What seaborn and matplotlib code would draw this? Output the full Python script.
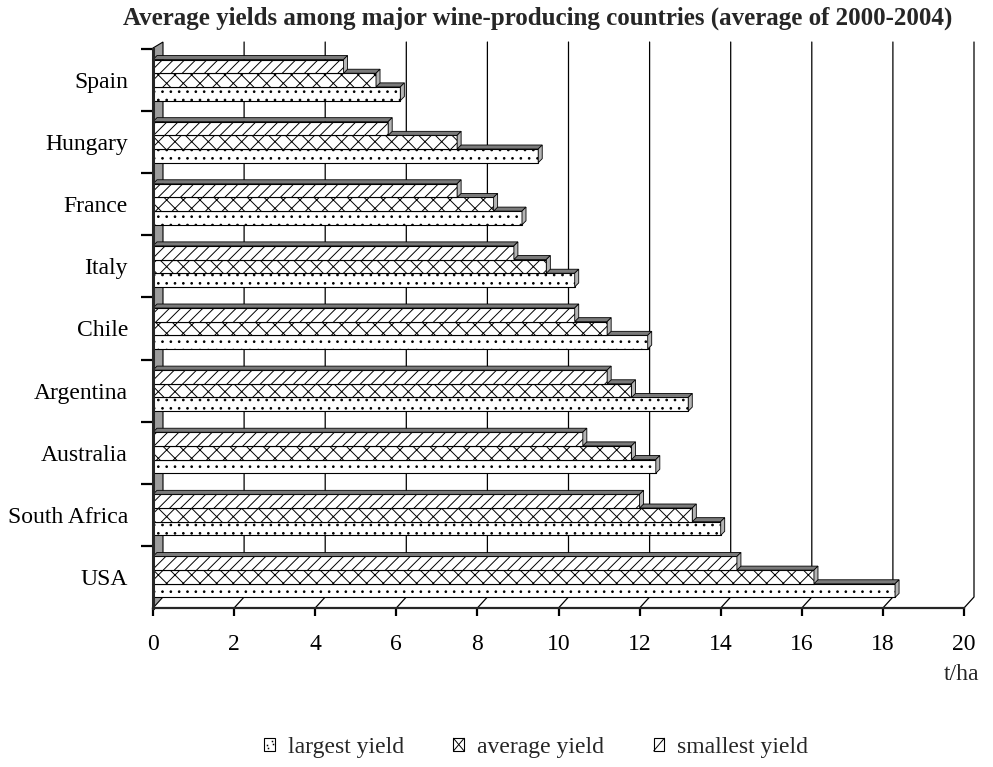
import numpy as np
import pandas as pd
import matplotlib
matplotlib.use("Agg")
import matplotlib.pyplot as plt
import seaborn as sns
from matplotlib.patches import Polygon, Patch, Rectangle
from matplotlib.lines import Line2D
from matplotlib.transforms import IdentityTransform
from matplotlib.legend_handler import HandlerBase

# Average yields (t/ha), 2000-2004
countries = ["Spain", "Hungary", "France", "Italy", "Chile",
             "Argentina", "Australia", "South Africa", "USA"]
smallest = [4.7, 5.8, 7.5, 8.9, 10.4, 11.2, 10.6, 12.0, 14.4]
average = [5.5, 7.5, 8.4, 9.7, 11.2, 11.8, 11.8, 13.3, 16.3]
largest = [6.1, 9.5, 9.1, 10.4, 12.2, 13.2, 12.4, 14.0, 18.3]
series = ["smallest yield", "average yield", "largest yield"]
legend_order = ["largest yield", "average yield", "smallest yield"]
hatches = {"smallest yield": "///", "average yield": "xx", "largest yield": ".."}
x_ticks = list(range(0, 21, 2))
title = "Average yields among major wine-producing countries (average of 2000-2004)"
unit = "t/ha"

sns.set_style("white")
plt.rcParams["font.family"] = ["Liberation Serif", "DejaVu Serif"]
plt.rcParams["hatch.linewidth"] = 0.7

df = pd.DataFrame({
    "country": countries * 3,
    "series": [s for s in series for _ in countries],
    "value": smallest + average + largest,
})

W, H, DPI = 993, 767, 100
FS = 17
fig = plt.figure(figsize=(W / DPI, H / DPI), dpi=DPI)
ax = fig.add_axes([153 / W, (H - 608) / H, 811 / W, 559 / H])

sns.barplot(data=df, x="value", y="country", hue="series", hue_order=series,
            order=countries, orient="h", width=0.66,
            palette={s: "white" for s in series}, saturation=1,
            edgecolor="black", linewidth=0.8, legend=False, ax=ax)
ax.set_xlim(0, 20)
ax.set_ylim(8.5, -0.5)
ax.set_xlabel("")
ax.set_ylabel("")

to_disp = ax.transData.transform
pix = IdentityTransform()

# 3-D look: depth of the bars and of the back wall, in pixels
BDX, BDY = 4, 4
WDX, WDY_BOT, WDY_TOP = 10, 11, 7

x0_px, y_bot = to_disp((0, 8.5))
_, y_top = to_disp((0, -0.5))

# back-wall gridlines with their floor diagonals
for v in x_ticks[1:]:
    px, _ = to_disp((v, 8.5))
    ax.add_line(Line2D([px, px + WDX, px + WDX],
                       [y_bot, y_bot + WDY_BOT, y_top + WDY_TOP],
                       transform=pix, color="black", lw=0.9,
                       zorder=1, clip_on=False))

# grey side wall on the left
ax.add_patch(Polygon([(x0_px, y_bot), (x0_px, y_top + 1),
                      (x0_px + WDX, y_top + WDY_TOP),
                      (x0_px + WDX, y_bot + WDY_BOT)],
                     closed=True, transform=pix, facecolor="#9c9c9c",
                     edgecolor="black", lw=0.8, zorder=2, clip_on=False))

# hatched fronts plus top and side faces of every bar
for level, cont, z in zip(series, ax.containers, [5, 4, 3]):
    for bar in cont:
        bar.set_hatch(hatches[level])
        bar.set_zorder(z)
        bx, by = bar.get_x(), bar.get_y()
        bw, bh = bar.get_width(), bar.get_height()
        (p0, ya), (p1, yb) = to_disp([(bx, by), (bx + bw, by + bh)])
        top, bot = max(ya, yb), min(ya, yb)
        ax.add_patch(Polygon([(p0, top), (p1, top), (p1 + BDX, top + BDY),
                              (p0 + BDX, top + BDY)], closed=True,
                             transform=pix, facecolor="#7a7a7a",
                             edgecolor="black", lw=0.6, zorder=z,
                             clip_on=False))
        ax.add_patch(Polygon([(p1, bot), (p1, top), (p1 + BDX, top + BDY),
                              (p1 + BDX, bot + BDY)], closed=True,
                             transform=pix, facecolor="#b4b4b4",
                             edgecolor="black", lw=0.6, zorder=z,
                             clip_on=False))

# axes styling
for side in ("top", "right"):
    ax.spines[side].set_visible(False)
ax.spines["left"].set_linewidth(2.2)
ax.spines["left"].set_zorder(6)
ax.spines["bottom"].set_linewidth(1.6)
ax.spines["bottom"].set_zorder(6)

ax.set_xticks(x_ticks)
ax.set_xticklabels([str(t) for t in x_ticks])
ax.tick_params(axis="x", bottom=True, direction="out", length=6, width=1.6,
               pad=13, labelsize=FS, colors="black")

ax.set_yticks(np.arange(-0.5, 8.0, 1.0))
ax.set_yticklabels([])
ax.set_yticks(range(len(countries)), minor=True)
ax.set_yticklabels(countries, minor=True)
ax.tick_params(axis="y", which="major", left=True, direction="out",
               length=8.5, width=1.6, colors="black")
ax.tick_params(axis="y", which="minor", left=True, length=0, pad=18,
               labelsize=FS, labelcolor="black")

fig.text(0.541, 1 - 18 / H, title, ha="center", va="center",
         fontsize=18, fontweight="bold")
fig.text(962 / W, 1 - 674 / H, unit, ha="center", va="center", fontsize=FS)


class HatchKey(HandlerBase):
    """Small legend box showing a simplified version of a hatch pattern."""

    def __init__(self, kind):
        super().__init__()
        self.kind = kind

    def create_artists(self, legend, orig_handle, xdescent, ydescent,
                       width, height, fontsize, trans):
        x0, y0 = -xdescent, -ydescent
        arts = [Rectangle((x0, y0), width, height, facecolor="white",
                          edgecolor="black", lw=0.8, transform=trans)]
        if self.kind == "x":
            arts.append(Line2D([x0, x0 + width], [y0, y0 + height],
                               color="black", lw=0.7, transform=trans))
            arts.append(Line2D([x0, x0 + width], [y0 + height, y0],
                               color="black", lw=0.7, transform=trans))
        elif self.kind == "/":
            arts.append(Line2D([x0, x0 + width], [y0, y0 + height],
                               color="black", lw=0.7, transform=trans))
        else:
            fx = np.array([0.25, 0.4, 0.7, 0.85])
            fy = np.array([0.45, 0.2, 0.8, 0.55])
            arts.append(Line2D(x0 + fx * width, y0 + fy * height, ls="none",
                               marker="s", ms=1.1, mew=0, color="black",
                               transform=trans))
        return arts


kinds = {"largest yield": ".", "average yield": "x", "smallest yield": "/"}
handles = [Patch(facecolor="white", edgecolor="black") for _ in legend_order]
fig.legend(handles, legend_order, loc="center", bbox_to_anchor=(0.540, 0.0254),
           ncol=3, frameon=False, fontsize=FS, handlelength=0.45,
           handleheight=0.45, handletextpad=0.55, columnspacing=2.1,
           handler_map={h: HatchKey(kinds[s]) for h, s in zip(handles, legend_order)})

fig.savefig("out.png", dpi=DPI)
